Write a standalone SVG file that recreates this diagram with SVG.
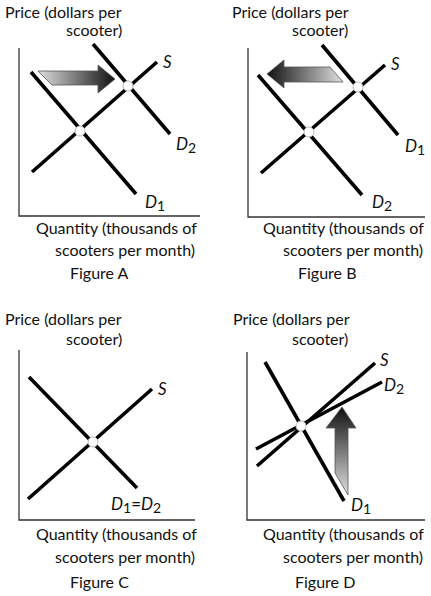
<svg xmlns="http://www.w3.org/2000/svg" width="431" height="596" viewBox="0 0 431 596">
<defs>
<linearGradient id="gR" x1="0" y1="0" x2="1" y2="0"><stop offset="0" stop-color="#e0e0e0"/><stop offset="1" stop-color="#111"/></linearGradient>
<linearGradient id="gL" x1="0" y1="0" x2="1" y2="0"><stop offset="0" stop-color="#111"/><stop offset="1" stop-color="#e0e0e0"/></linearGradient>
<linearGradient id="gU" x1="0" y1="0" x2="0" y2="1"><stop offset="0" stop-color="#111"/><stop offset="1" stop-color="#e0e0e0"/></linearGradient>
</defs>
<style>
text{font-family:Lato,"Liberation Sans",sans-serif;font-size:16px;fill:#111}
.lbl{font-style:italic;font-size:17px}
.sub{font-size:14px;font-style:normal}
.ax{stroke:#333;stroke-width:1.3;fill:none}
.cv{stroke:#000;stroke-width:3.6;fill:none;stroke-linecap:butt}
.eq{fill:#fff;stroke:#bbb;stroke-width:1}
.arr{stroke:#555;stroke-width:0.8}
</style>
<rect width="431" height="596" fill="#fff"/>

<g id="figA">
<text x="5" y="18">Price (dollars per</text>
<text x="66" y="36">scooter)</text>
<polyline class="ax" points="19,48 19,216 200,216"/>
<g class="connectors">
<line class="cv" x1="32" y1="172" x2="157" y2="62"/>
<line class="cv" x1="31" y1="72" x2="136" y2="194"/>
<line class="cv" x1="93" y1="44" x2="170" y2="134"/>
</g>
<polygon class="arr" fill="url(#gR)" points="38,71 98,71 98,65 115,79 98,93 98,85 52,85"/>
<circle class="eq" cx="80" cy="131" r="5"/>
<circle class="eq" cx="128" cy="86" r="5"/>
<text class="lbl" x="163" y="68">S</text>
<text class="lbl" x="176" y="150">D<tspan class="sub" dy="3">2</tspan></text>
<text class="lbl" x="145" y="208">D<tspan class="sub" dy="3">1</tspan></text>
<text x="36" y="234">Quantity (thousands of</text>
<text x="55" y="256">scooters per month)</text>
<text x="70" y="279">Figure A</text>
</g>

<g id="figB">
<text x="232" y="18">Price (dollars per</text>
<text x="292" y="36">scooter)</text>
<polyline class="ax" points="248,48 248,217 425,217"/>
<g class="connectors">
<line class="cv" x1="261" y1="173" x2="385" y2="65"/>
<line class="cv" x1="322" y1="45" x2="398" y2="135"/>
<line class="cv" x1="258" y1="75" x2="362" y2="195"/>
</g>
<polygon class="arr" fill="url(#gL)" points="267,74 284,60 284,67 330,67 343,82 284,82 284,88"/>
<circle class="eq" cx="309" cy="132" r="5"/>
<circle class="eq" cx="358" cy="87" r="5"/>
<text class="lbl" x="391" y="70">S</text>
<text class="lbl" x="405" y="152">D<tspan class="sub" dy="3">1</tspan></text>
<text class="lbl" x="372" y="208">D<tspan class="sub" dy="3">2</tspan></text>
<text x="263" y="234">Quantity (thousands of</text>
<text x="283" y="256">scooters per month)</text>
<text x="298" y="279">Figure B</text>
</g>

<g id="figC">
<text x="5" y="325">Price (dollars per</text>
<text x="66" y="345">scooter)</text>
<polyline class="ax" points="19,350 19,520 195,520"/>
<g class="connectors">
<line class="cv" x1="28" y1="499" x2="152" y2="389"/>
<line class="cv" x1="29" y1="377" x2="137" y2="488"/>
</g>
<circle class="eq" cx="93" cy="442" r="5"/>
<text class="lbl" x="158" y="395">S</text>
<text class="lbl" x="111" y="510">D<tspan class="sub" dy="3">1</tspan><tspan dy="-3" style="font-style:normal">=</tspan>D<tspan class="sub" dy="3">2</tspan></text>
<text x="36" y="540">Quantity (thousands of</text>
<text x="55" y="563">scooters per month)</text>
<text x="70" y="588">Figure C</text>
</g>

<g id="figD">
<text x="233" y="325">Price (dollars per</text>
<text x="292" y="345">scooter)</text>
<polyline class="ax" points="247,352 247,520 425,520"/>
<g class="connectors">
<line class="cv" x1="257" y1="466" x2="375" y2="363"/>
<line class="cv" x1="256" y1="449" x2="382" y2="382"/>
<line class="cv" x1="265" y1="362" x2="344" y2="501"/>
</g>
<polygon class="arr" fill="url(#gU)" points="342,407 356,428 348,428 348,495 335,473 335,428 326,428"/>
<circle class="eq" cx="301" cy="426" r="5"/>
<text class="lbl" x="380" y="366">S</text>
<text class="lbl" x="384" y="391">D<tspan class="sub" dy="3">2</tspan></text>
<text class="lbl" x="351" y="511">D<tspan class="sub" dy="3">1</tspan></text>
<text x="263" y="540">Quantity (thousands of</text>
<text x="283" y="563">scooters per month)</text>
<text x="295" y="588">Figure D</text>
</g>
</svg>
